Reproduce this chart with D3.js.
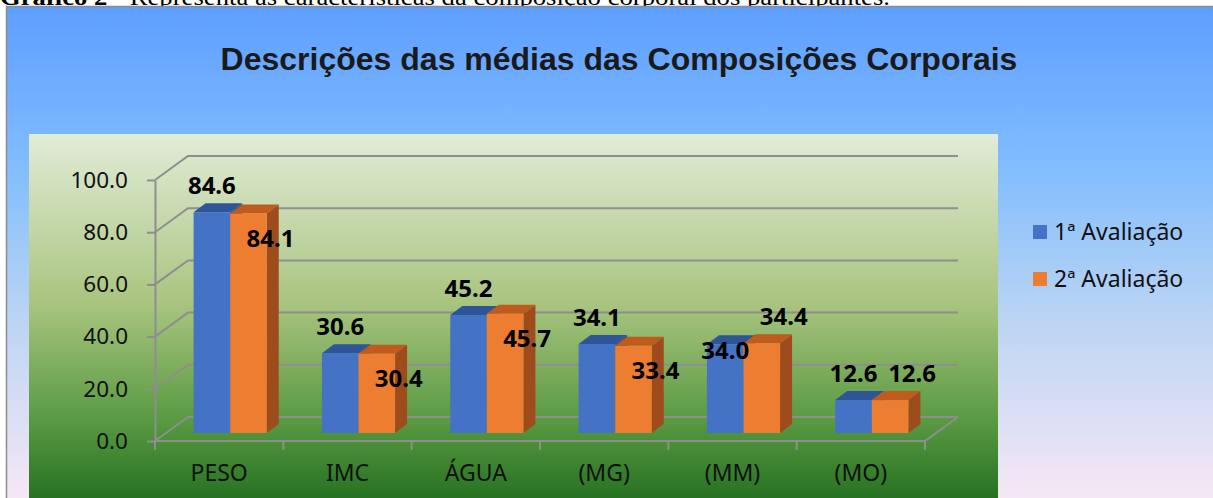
<!DOCTYPE html>
<html>
<head>
<meta charset="utf-8">
<script src="https://cdn.jsdelivr.net/npm/d3@7"></script>
<style>
body { margin: 0; background: #fff; }
svg { display: block; }
</style>
</head>
<body>
<svg id="chart" width="1213" height="498"></svg>
<script>
var width = 1213, height = 498;

// data
var categories = ["PESO", "IMC", "ÁGUA", "(MG)", "(MM)", "(MO)"];
var seriesNames = ["1ª Avaliação", "2ª Avaliação"];
var aval1 = [84.6, 30.6, 45.2, 34.1, 34.0, 12.6];
var aval2 = [84.1, 30.4, 45.7, 33.4, 34.4, 12.6];
var yTicks = [0, 20, 40, 60, 80, 100];
// where excel put the data labels
var labelPos1 = ["above", "above", "above", "above", "inside", "above"];
var labelPos2 = ["below", "below", "below", "below", "above", "above"];

var colors = {
  front: ["#4472c4", "#ed7d31"],
  top: ["#2e5598", "#bf5b1d"],
  side: ["#2f528f", "#9e4c1b"]
};

var svg = d3.select("#chart");
var defs = svg.append("defs");

var og = defs.append("linearGradient").attr("id", "outerGrad")
  .attr("x1", 0).attr("y1", 0).attr("x2", 0).attr("y2", 1);
og.append("stop").attr("offset", "0%").attr("stop-color", "#5e9eff");
og.append("stop").attr("offset", "30%").attr("stop-color", "#7fbcff");
og.append("stop").attr("offset", "62%").attr("stop-color", "#bcd5f3");
og.append("stop").attr("offset", "100%").attr("stop-color", "#fce9f6");

var pg = defs.append("linearGradient").attr("id", "plotGrad")
  .attr("x1", 0).attr("y1", 0).attr("x2", 0).attr("y2", 1);
pg.append("stop").attr("offset", "0%").attr("stop-color", "#e2ecd8");
pg.append("stop").attr("offset", "45%").attr("stop-color", "#a8c47e");
pg.append("stop").attr("offset", "75%").attr("stop-color", "#5a9a42");
pg.append("stop").attr("offset", "100%").attr("stop-color", "#1c6a1c");

// caption above the chart (cut off at the top, as in the source)
var cap = svg.append("text")
  .attr("x", 0).attr("y", 4.5)
  .attr("font-family", "Liberation Serif")
  .attr("font-size", "24px")
  .attr("textLength", 890)
  .attr("lengthAdjust", "spacingAndGlyphs")
  .attr("fill", "#000");
cap.append("tspan").attr("font-weight", "bold").text("Gráfico 2 - ");
cap.append("tspan").text("Representa as características da composição corporal dos participantes.");

// chart area + plot area
svg.append("rect")
  .attr("x", 6.5).attr("y", 6.5).attr("width", 1220).attr("height", 510)
  .attr("fill", "url(#outerGrad)")
  .attr("stroke", "#8c8c8c").attr("stroke-width", 1.5);

svg.append("rect")
  .attr("x", 29).attr("y", 134).attr("width", 969).attr("height", 380)
  .attr("fill", "url(#plotGrad)");

svg.append("text")
  .attr("x", 619).attr("y", 70)
  .attr("text-anchor", "middle")
  .attr("font-family", "Liberation Sans")
  .attr("font-weight", "bold")
  .attr("font-size", "32px")
  .attr("fill", "#1a1a1a")
  .text("Descrições das médias das Composições Corporais");

// 3d box
var depth = {dx: 33, dy: -24};
var x0 = d3.scaleBand().domain(categories).range([155, 925]);
var y = d3.scaleLinear().domain([0, 100]).range([441, 180]);
var groupW = x0.bandwidth() * 0.57;
var x1 = d3.scaleBand().domain(seriesNames).range([0, groupW]);

var grid = svg.append("g")
  .attr("stroke", "#8e8e8e").attr("stroke-width", 2).attr("fill", "none");

yTicks.forEach(function(v) {
  grid.append("path").attr("d",
    "M" + x0.range()[0] + "," + y(v) +
    "L" + (x0.range()[0] + depth.dx) + "," + (y(v) + depth.dy) +
    "L" + (x0.range()[1] + depth.dx) + "," + (y(v) + depth.dy));
});
// floor
grid.append("path").attr("d",
  "M" + x0.range()[0] + "," + y(0) + "L" + x0.range()[1] + "," + y(0) +
  "L" + (x0.range()[1] + depth.dx) + "," + (y(0) + depth.dy));

// y axis
var yAxis = d3.axisLeft(y)
  .tickValues(yTicks)
  .tickSize(8)
  .tickSizeOuter(0)
  .tickPadding(19)
  .tickFormat(d3.format(".1f"));

var ya = svg.append("g")
  .attr("transform", "translate(" + x0.range()[0] + ",0)")
  .call(yAxis);
ya.selectAll("path, line").attr("stroke", "#8e8e8e").attr("stroke-width", 2);
ya.selectAll("text")
  .attr("font-family", "Noto Sans")
  .attr("font-size", "22.5px")
  .attr("fill", "#111");

// x axis: ticks at band edges, labels at centres
var edges = categories.map(function(c) { return x0(c); }).concat([x0.range()[1]]);
svg.append("g").selectAll("line")
  .data(edges)
  .enter().append("line")
  .attr("x1", function(d) { return d; }).attr("x2", function(d) { return d; })
  .attr("y1", y(0)).attr("y2", y(0) + 9)
  .attr("stroke", "#8e8e8e").attr("stroke-width", 2);

svg.append("g").selectAll("text")
  .data(categories)
  .enter().append("text")
  .attr("x", function(d) { return x0(d) + x0.bandwidth() / 2; })
  .attr("y", 481)
  .attr("text-anchor", "middle")
  .attr("font-family", "Noto Sans")
  .attr("font-size", "23px")
  .attr("fill", "#111")
  .text(function(d) { return d; });

// bars
var bd = {dx: 11, dy: -8};   // bars sit a third of the way into the box
var bt = {dx: 12, dy: -9};   // bar depth
var bars = svg.append("g");
var rows = [aval1, aval2];
var bw = x1.bandwidth();

categories.forEach(function(c, i) {
  rows.forEach(function(vals, s) {
    var xl = x0(c) + (x0.bandwidth() - groupW) / 2 + x1(seriesNames[s]) + bd.dx;
    var yt = y(vals[i]) + bd.dy;
    var yb = y(0) + bd.dy;
    var g = bars.append("g");
    g.append("path")
      .attr("d", "M" + (xl + bw) + "," + yt + "L" + (xl + bw + bt.dx) + "," + (yt + bt.dy) +
        "L" + (xl + bw + bt.dx) + "," + (yb + bt.dy) + "L" + (xl + bw) + "," + yb + "Z")
      .attr("fill", colors.side[s]);
    g.append("path")
      .attr("d", "M" + xl + "," + yt + "L" + (xl + bt.dx) + "," + (yt + bt.dy) +
        "L" + (xl + bw + bt.dx) + "," + (yt + bt.dy) + "L" + (xl + bw) + "," + yt + "Z")
      .attr("fill", colors.top[s]);
    g.append("rect")
      .attr("x", xl).attr("y", yt)
      .attr("width", bw).attr("height", yb - yt)
      .attr("fill", colors.front[s]);
  });
});

// data labels
var labels = svg.append("g")
  .attr("font-family", "Noto Sans")
  .attr("font-weight", "bold")
  .attr("font-size", "24px")
  .attr("fill", "#000")
  .attr("text-anchor", "middle");

categories.forEach(function(c, i) {
  rows.forEach(function(vals, s) {
    var xl = x0(c) + (x0.bandwidth() - groupW) / 2 + x1(seriesNames[s]) + bd.dx;
    var yt = y(vals[i]) + bd.dy;
    var pos = s == 0 ? labelPos1[i] : labelPos2[i];
    var lx = xl + bw / 2 + (s == 0 ? 0 : 22);
    var ly = pos == "above" ? yt - 27 : (pos == "below" ? yt + 25 : yt + 6);
    labels.append("text")
      .attr("x", lx).attr("y", ly)
      .attr("dy", "0.36em")
      .text(d3.format(".1f")(vals[i]));
  });
});

// legend
var legend = svg.append("g").selectAll("g")
  .data(seriesNames)
  .enter().append("g")
  .attr("transform", function(d, i) { return "translate(1033," + (232 + i * 47) + ")"; });
legend.append("rect")
  .attr("x", 0).attr("y", -7).attr("width", 14).attr("height", 14)
  .attr("fill", function(d, i) { return colors.front[i]; });
legend.append("text")
  .attr("x", 21).attr("y", 0).attr("dy", "0.36em")
  .attr("font-family", "Noto Sans")
  .attr("font-size", "23px")
  .attr("fill", "#111")
  .text(function(d) { return d; });
</script>
</body>
</html>
